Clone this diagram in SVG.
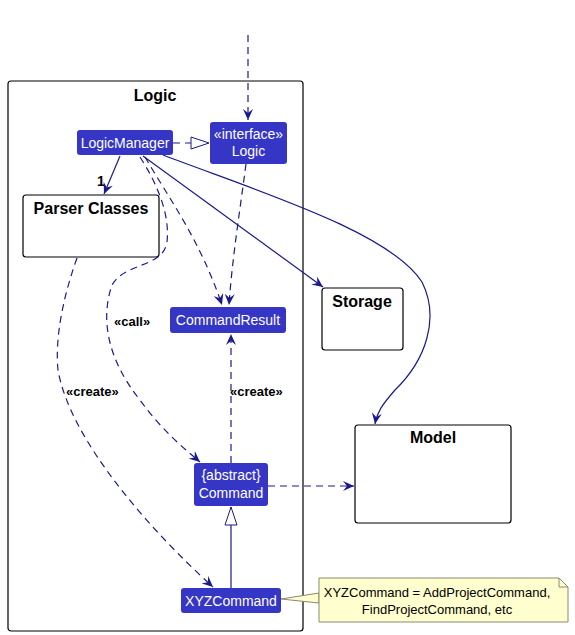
<svg xmlns="http://www.w3.org/2000/svg" width="575" height="635" viewBox="0 0 575 635">
<defs>
<marker id="arr" viewBox="0 0 12 10" refX="11" refY="5" markerWidth="12" markerHeight="10" markerUnits="userSpaceOnUse" orient="auto">
<path d="M11,5 L0,0 L4,5 L0,10 Z" fill="#1a1a8f"/>
</marker>
<marker id="tri" viewBox="0 0 20 14" refX="19" refY="7" markerWidth="20" markerHeight="14" markerUnits="userSpaceOnUse" orient="auto">
<path d="M19,7 L1,1 L1,13 Z" fill="#ffffff" stroke="#1a1a8f" stroke-width="1"/>
</marker>
<style>
.pkg{fill:#ffffff;stroke:#000000;stroke-width:1.2}
.cls{fill:#3535c6;stroke:none}
.wt{font-family:"Liberation Sans",Arial,sans-serif;font-size:14px;fill:#ffffff;text-anchor:middle}
.tt{font-family:"Liberation Sans",Arial,sans-serif;font-size:16px;font-weight:bold;fill:#000000;text-anchor:middle}
.lb{font-family:"Liberation Sans",Arial,sans-serif;font-size:13px;font-weight:bold;fill:#000000}
.nt{font-family:"Liberation Sans",Arial,sans-serif;font-size:13px;fill:#000000;text-anchor:middle}
.ln{fill:none;stroke:#1a1a8f;stroke-width:1.2}
.ds{stroke-dasharray:7,5}
</style>
</defs>
<g id="logic-package">
<rect class="pkg" x="8" y="81" width="295" height="550" rx="3"/>
<text class="tt" x="155" y="101">Logic</text>
</g>
<g id="storage">
<rect class="pkg" x="322" y="288" width="81" height="62" rx="3"/>
<text class="tt" x="362" y="307">Storage</text>
</g>
<g id="model">
<rect class="pkg" x="355" y="425" width="156" height="98" rx="3"/>
<text class="tt" x="433" y="443">Model</text>
</g>
<g id="parser-classes">
<rect class="pkg" x="23" y="195" width="136" height="62" rx="3"/>
<text class="tt" x="91" y="214">Parser Classes</text>
</g>
<g id="connectors">
<path class="ln ds" d="M248,35 L248,120" marker-end="url(#arr)"/>
<path class="ln ds" d="M173,143 L209,143" marker-end="url(#tri)"/>
<path class="ln" d="M120,156 L104,194" marker-end="url(#arr)"/>
<text class="lb" x="97" y="186" style="font-size:14px">1</text>
<path class="ln ds" d="M140,157 C158,185 170,215 167,242 C163,268 125,262 112,285 C100,320 108,360 140,400 C160,428 180,445 200,462" marker-end="url(#arr)"/>
<text class="lb" x="114" y="326">«call»</text>
<path class="ln ds" d="M145,157 C170,200 200,240 222,305" marker-end="url(#arr)"/>
<path class="ln ds" d="M246,164 C240,210 232,260 229,305" marker-end="url(#arr)"/>
<path class="ln" d="M143,156 L323,287" marker-end="url(#arr)"/>
<path class="ln" d="M163,155 C260,192 390,232 422,282 C440,318 426,360 395,390 C382,405 377,412 375,424" marker-end="url(#arr)"/>
<path class="ln ds" d="M77,258 C62,300 55,340 58,370 C70,440 150,530 213,587" marker-end="url(#arr)"/>
<text class="lb" x="66" y="396">«create»</text>
<path class="ln ds" d="M231,463 L231,334" marker-end="url(#arr)"/>
<text class="lb" x="230" y="396">«create»</text>
<path class="ln ds" d="M268,486 L354,486" marker-end="url(#arr)"/>
<path class="ln" d="M231,588 L231,507" marker-end="url(#tri)"/>
<path d="M281,599 L319,593 L319,603 Z" fill="#fefece" stroke="#8a8a70" stroke-width="1"/>
</g>
<g id="logic-manager">
<rect class="cls" x="77" y="130" width="96" height="25" rx="3"/>
<text class="wt" x="125" y="148">LogicManager</text>
</g>
<g id="logic-interface">
<rect class="cls" x="210" y="122" width="77" height="42" rx="3"/>
<text class="wt" x="248.5" y="139">«interface»</text>
<text class="wt" x="248.5" y="156">Logic</text>
</g>
<g id="command-result">
<rect class="cls" x="170" y="307" width="116" height="26" rx="3"/>
<text class="wt" x="228" y="325">CommandResult</text>
</g>
<g id="command">
<rect class="cls" x="194" y="463" width="74" height="43" rx="3"/>
<text class="wt" x="231" y="480">{abstract}</text>
<text class="wt" x="231" y="498">Command</text>
</g>
<g id="xyz-command">
<rect class="cls" x="181" y="588" width="100" height="25" rx="3"/>
<text class="wt" x="231" y="606">XYZCommand</text>
</g>
<g id="note">
<path d="M319,578 L559,578 L568,587 L568,622 L319,622 Z" fill="#fefece" stroke="#8a8a70" stroke-width="1"/>
<path d="M559,578 L559,587 L568,587" fill="none" stroke="#8a8a70" stroke-width="1"/>
<text class="nt" x="437" y="597">XYZCommand = AddProjectCommand,</text>
<text class="nt" x="437" y="614">FindProjectCommand, etc</text>
</g>
</svg>
